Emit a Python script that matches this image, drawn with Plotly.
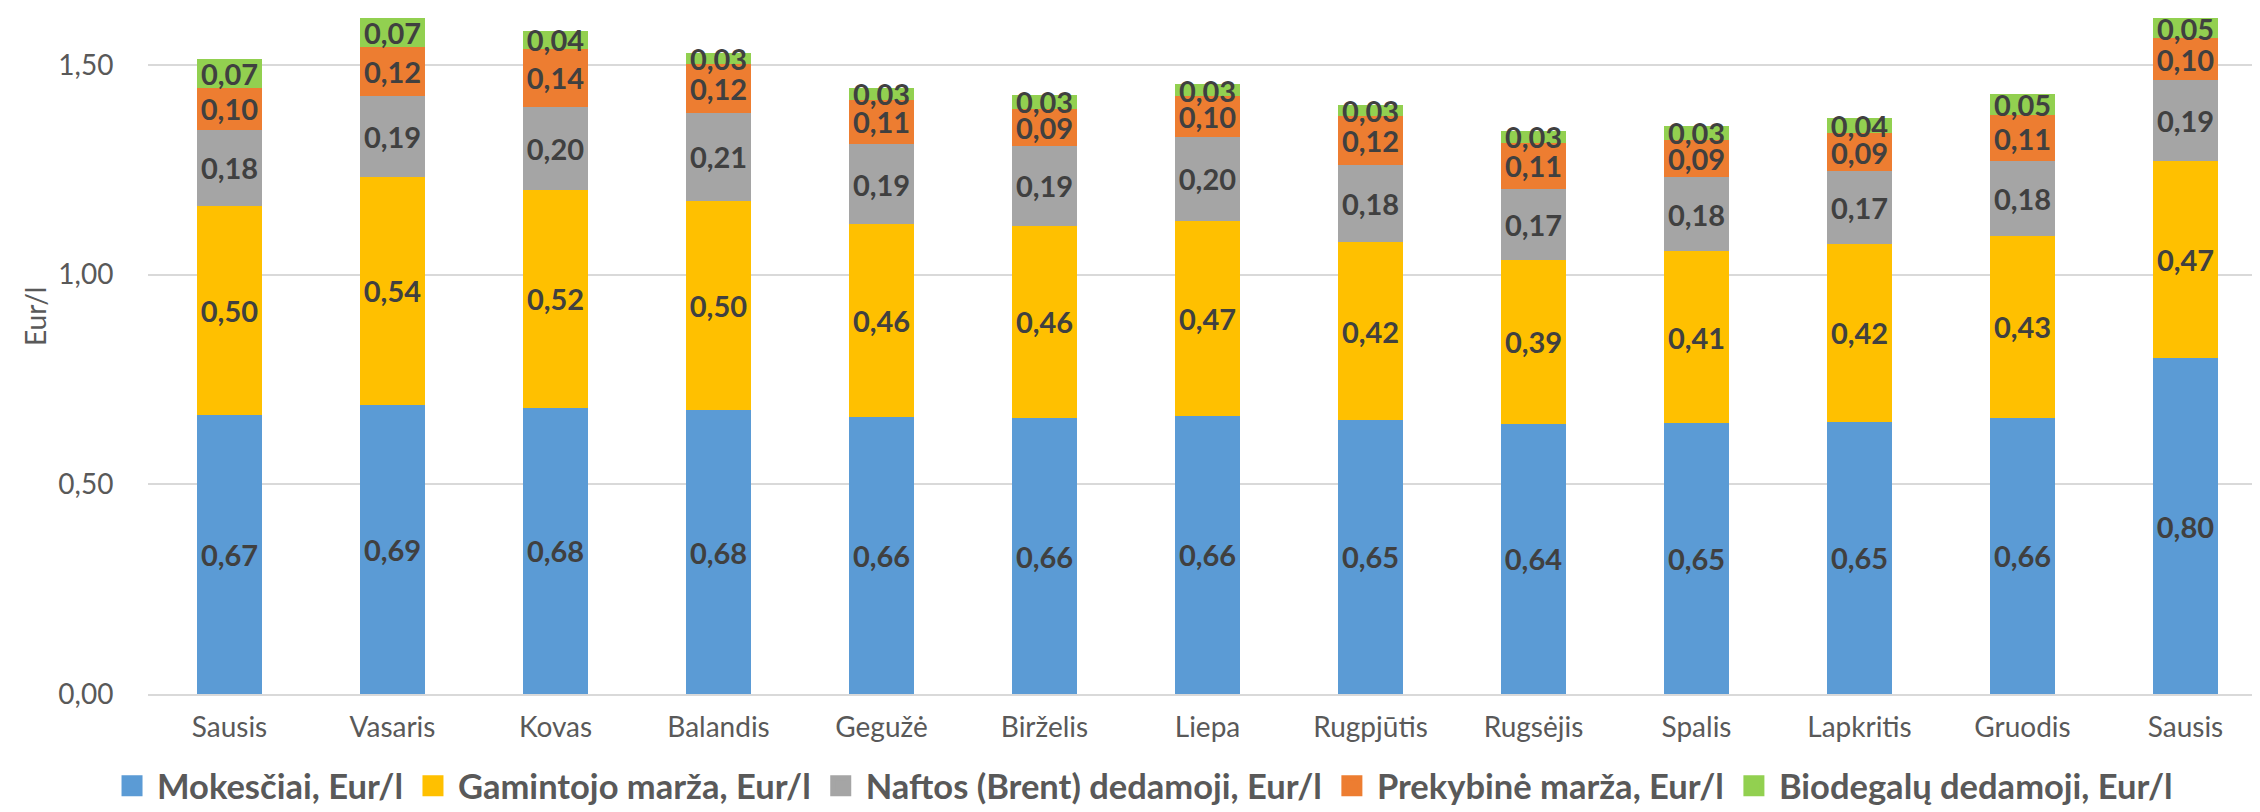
import plotly.graph_objects as go

months = ["Sausis", "Vasaris", "Kovas", "Balandis", "Gegužė", "Birželis", "Liepa",
          "Rugpjūtis", "Rugsėjis", "Spalis", "Lapkritis", "Gruodis", "Sausis"]

mokesciai = [0.666, 0.690, 0.683, 0.676, 0.661, 0.658, 0.663, 0.654, 0.644, 0.646, 0.649, 0.659, 0.800]
gamintojo = [0.497, 0.542, 0.518, 0.500, 0.459, 0.459, 0.466, 0.423, 0.391, 0.410, 0.424, 0.434, 0.470]
naftos = [0.183, 0.194, 0.199, 0.209, 0.191, 0.189, 0.198, 0.184, 0.169, 0.177, 0.174, 0.177, 0.194]
prekybine = [0.100, 0.116, 0.139, 0.117, 0.106, 0.090, 0.099, 0.118, 0.110, 0.088, 0.090, 0.110, 0.099]
biodegalu = [0.069, 0.070, 0.041, 0.027, 0.029, 0.032, 0.028, 0.026, 0.029, 0.034, 0.036, 0.051, 0.049]

series = [
    ("Mokesčiai, Eur/l", mokesciai, "#5B9BD5"),
    ("Gamintojo marža, Eur/l", gamintojo, "#FFC000"),
    ("Naftos (Brent) dedamoji, Eur/l", naftos, "#A5A5A5"),
    ("Prekybinė marža, Eur/l", prekybine, "#ED7D31"),
    ("Biodegalų dedamoji, Eur/l", biodegalu, "#92D050"),
]

x = list(range(len(months)))
FONT = "Lato"

fig = go.Figure()
for name, vals, color in series:
    fig.add_trace(go.Bar(
        x=x, y=vals, name=name, showlegend=False, legendgroup=name,
        marker=dict(color=color, line=dict(width=0)),
        text=[f"{v:.2f}".replace(".", ",") for v in vals],
        textposition="inside", insidetextanchor="middle", constraintext="none",
        textangle=0,
        textfont=dict(family=FONT, size=29, color="#404040", weight="bold"),
        hoverinfo="skip",
    ))
for name, vals, color in series:
    fig.add_trace(go.Scatter(
        x=[None], y=[None], name=name, mode="markers", legendgroup=name,
        marker=dict(symbol="square", size=16, color=color, line=dict(color=color, width=5)),
    ))

fig.update_layout(
    width=2260, height=812,
    margin=dict(l=140, r=1, t=0, b=126),
    paper_bgcolor="white", plot_bgcolor="white",
    barmode="stack", bargap=0.6,
    separators=",.",
    font=dict(family=FONT, color="#595959"),
    showlegend=True,
    legend=dict(
        orientation="h", xref="container", yref="container",
        x=0.502, xanchor="center", y=0.042, yanchor="middle",
        font=dict(family=FONT, size=34.5, color="#595959", weight="bold"),
        itemwidth=40, tracegroupgap=0,
    ),
    xaxis=dict(
        tickvals=x, ticktext=months, range=[-0.5, len(months) - 0.5],
        showgrid=False, zeroline=False,
        showline=True, linecolor="#D9D9D9", linewidth=2,
        ticks="outside", ticklen=7, tickcolor="rgba(0,0,0,0)",
        tickfont=dict(family=FONT, size=28, color="#595959"),
    ),
    yaxis=dict(
        range=[0, 1.6357], tickvals=[0, 0.5, 1.0, 1.5], tickformat=".2f",
        showgrid=True, gridcolor="#D9D9D9", gridwidth=2, zeroline=False,
        showline=False,
        ticks="outside", ticklen=28, tickcolor="rgba(0,0,0,0)",
        tickfont=dict(family=FONT, size=28, color="#595959"),
    ),
    annotations=[dict(
        text="Eur/l", xref="paper", yref="paper",
        x=-0.0533, y=0.5496, xanchor="center", yanchor="middle",
        textangle=-90, showarrow=False,
        font=dict(family=FONT, size=28, color="#595959"),
    )],
)

fig.write_html("out.html")
